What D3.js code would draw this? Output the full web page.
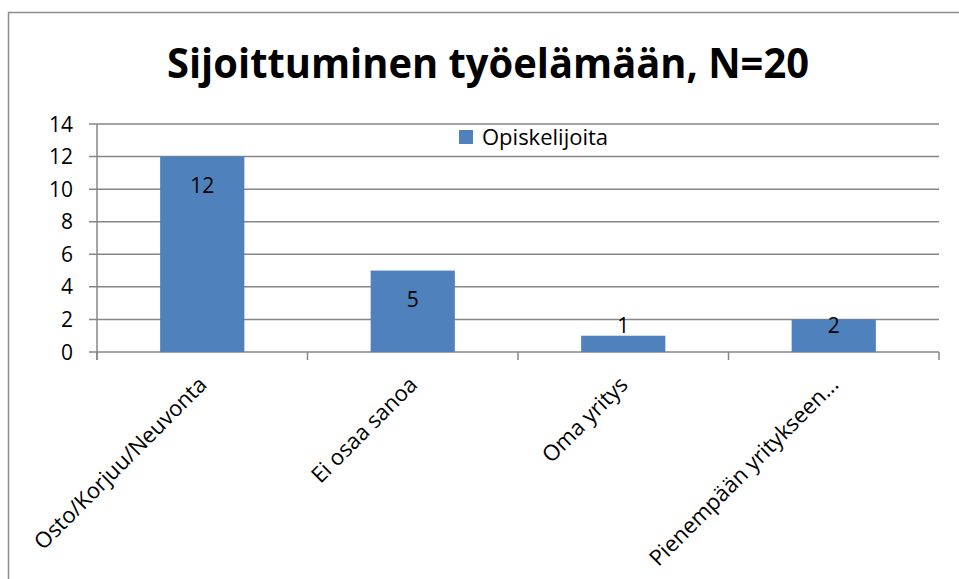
<!DOCTYPE html>
<html>
<head>
<meta charset="utf-8">
<script src="https://cdn.jsdelivr.net/npm/d3@7"></script>
<style>
  body { margin: 0; background: #fff; }
  svg text { font-family: "Open Sans", "Noto Sans", sans-serif; fill: #000; }
</style>
</head>
<body>
<script>
var title = "Sijoittuminen työelämään, N=20"
var seriesName = "Opiskelijoita"
var categories = ["Osto/Korjuu/Neuvonta", "Ei osaa sanoa", "Oma yritys", "Pienempään yritykseen..."]
var values = [12, 5, 1, 2]
var yTicks = [0, 2, 4, 6, 8, 10, 12, 14]

var gridColor = "#868686"
var barColor = "#4F81BD"

var svg = d3.select("body")
            .append("svg")
            .attr("width", 959)
            .attr("height", 579)

// chart frame, runs off the right and bottom edge
svg.append("rect")
   .attr("x", 8.5)
   .attr("y", 12.5)
   .attr("width", 1000)
   .attr("height", 1000)
   .attr("fill", "#fff")
   .attr("stroke", "#8c8c8c")
   .attr("stroke-width", 1.5)

var xScale = d3.scaleBand()
               .domain(categories)
               .range([97, 939])
               .paddingInner(0.6)
               .paddingOuter(0.3)

var yScale = d3.scaleLinear()
               .domain([0, 14])
               .range([352, 124])

var step = xScale.step()

svg.append("text")
   .attr("x", 488)
   .attr("y", 78)
   .attr("text-anchor", "middle")
   .attr("font-size", 42)
   .attr("font-weight", "bold")
   .attr("textLength", 642)
   .attr("lengthAdjust", "spacingAndGlyphs")
   .text(title)

// horizontal gridlines
svg.selectAll(".grid")
   .data(yTicks)
   .enter()
   .append("line")
   .attr("class", "grid")
   .attr("x1", 89)
   .attr("x2", 939)
   .attr("y1", d => yScale(d))
   .attr("y2", d => yScale(d))
   .attr("stroke", gridColor)
   .attr("stroke-width", 1.5)

svg.selectAll(".ytick")
   .data(yTicks)
   .enter()
   .append("text")
   .attr("class", "ytick")
   .attr("x", 73)
   .attr("y", d => yScale(d) + 7.5)
   .attr("text-anchor", "end")
   .attr("font-size", 21)
   .text(d => d)

// axes
svg.append("line")
   .attr("x1", 97).attr("x2", 97)
   .attr("y1", yScale(14)).attr("y2", yScale(0) + 8)
   .attr("stroke", gridColor)
   .attr("stroke-width", 1.5)

svg.selectAll(".xtick")
   .data(d3.range(categories.length + 1))
   .enter()
   .append("line")
   .attr("class", "xtick")
   .attr("x1", i => 97 + i * step)
   .attr("x2", i => 97 + i * step)
   .attr("y1", yScale(0))
   .attr("y2", yScale(0) + 8)
   .attr("stroke", gridColor)
   .attr("stroke-width", 1.5)

svg.selectAll(".bar")
   .data(values)
   .enter()
   .append("rect")
   .attr("class", "bar")
   .attr("x", (d, i) => xScale(categories[i]))
   .attr("y", d => yScale(d))
   .attr("width", xScale.bandwidth())
   .attr("height", d => yScale(0) - yScale(d))
   .attr("fill", barColor)

// value labels: inside end, pushed up when the bar is short
svg.selectAll(".val")
   .data(values)
   .enter()
   .append("text")
   .attr("class", "val")
   .attr("x", (d, i) => xScale(categories[i]) + xScale.bandwidth() / 2)
   .attr("y", d => Math.min(yScale(d) + 36, yScale(0) - 19))
   .attr("text-anchor", "middle")
   .attr("font-size", 21)
   .text(d => d)

svg.selectAll(".cat")
   .data(categories)
   .enter()
   .append("text")
   .attr("class", "cat")
   .attr("text-anchor", "end")
   .attr("font-size", 22)
   .attr("transform", d => "translate(" + (xScale(d) + xScale.bandwidth() / 2 + 6) + "," + (yScale(0) + 34) + ") rotate(-45)")
   .text(d => d)

// legend
var legend = svg.append("g")
                .attr("transform", "translate(459,130)")

legend.append("rect")
      .attr("width", 14)
      .attr("height", 14)
      .attr("fill", barColor)

legend.append("text")
      .attr("x", 23)
      .attr("y", 15)
      .attr("font-size", 22)
      .text(seriesName)
</script>
</body>
</html>
